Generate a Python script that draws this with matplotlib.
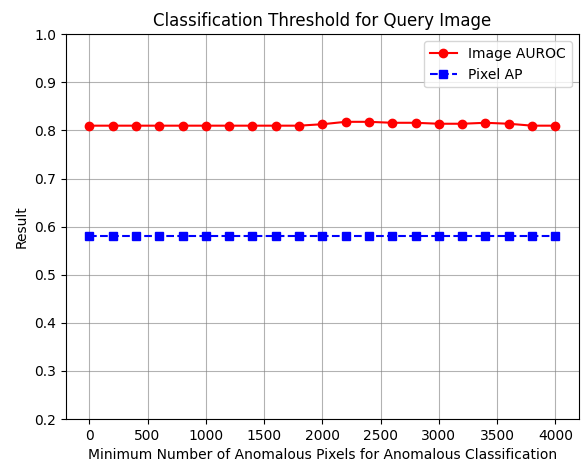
import matplotlib
matplotlib.use("Agg")
import matplotlib.pyplot as plt

# Minimum anomalous-pixel thresholds evaluated
thresholds = [0, 200, 400, 600, 800, 1000, 1200, 1400, 1600, 1800, 2000,
              2200, 2400, 2600, 2800, 3000, 3200, 3400, 3600, 3800, 4000]
image_auroc = [0.810, 0.810, 0.810, 0.810, 0.810, 0.810, 0.810, 0.810, 0.810, 0.810, 0.813,
               0.818, 0.818, 0.816, 0.816, 0.814, 0.814, 0.816, 0.814, 0.810, 0.810]
pixel_ap = [0.58] * len(thresholds)

fig, ax = plt.subplots(figsize=(5.86, 4.68), dpi=100)
ax.plot(thresholds, image_auroc, "r-o", label="Image AUROC")
ax.plot(thresholds, pixel_ap, "b--s", label="Pixel AP")
ax.set_ylim(0.2, 1.0)
ax.set_xlabel("Minimum Number of Anomalous Pixels for Anomalous Classification")
ax.set_ylabel("Result")
ax.set_title("Classification Threshold for Query Image")
ax.grid(True, color="gray", alpha=0.6)
ax.legend(loc="upper right")
fig.subplots_adjust(left=0.1126, right=0.9875, top=0.9267, bottom=0.1047)
fig.savefig("out.png")
